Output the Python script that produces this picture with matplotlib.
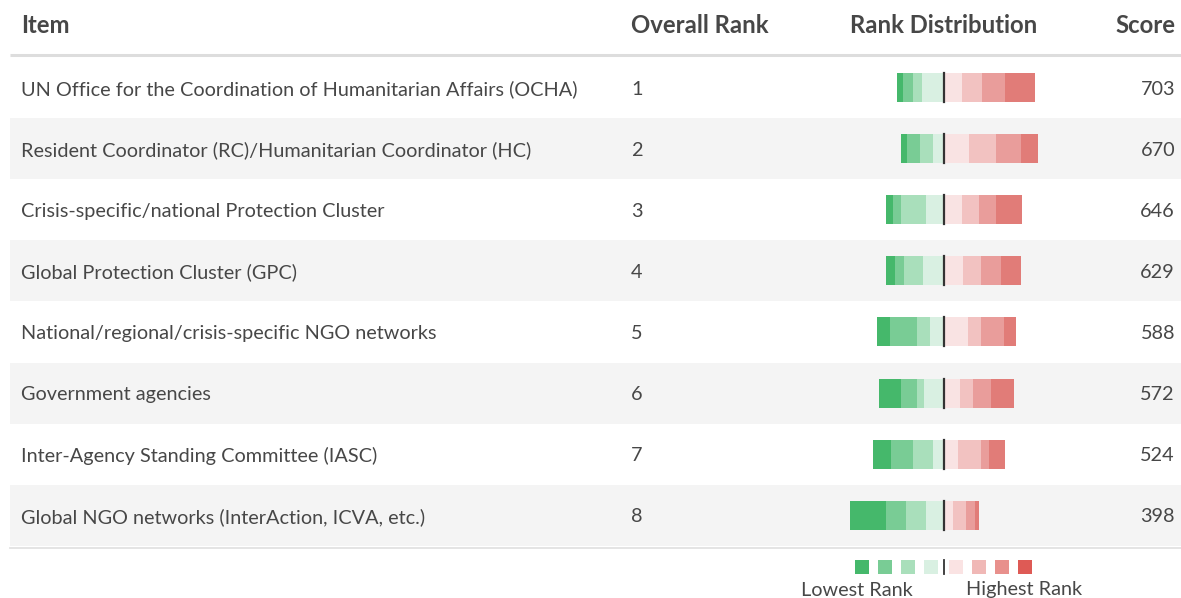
import matplotlib.pyplot as plt
import numpy as np

# ranked items, overall rank and score
items = [
    "UN Office for the Coordination of Humanitarian Affairs (OCHA)",
    "Resident Coordinator (RC)/Humanitarian Coordinator (HC)",
    "Crisis-specific/national Protection Cluster",
    "Global Protection Cluster (GPC)",
    "National/regional/crisis-specific NGO networks",
    "Government agencies",
    "Inter-Agency Standing Committee (IASC)",
    "Global NGO networks (InterAction, ICVA, etc.)",
]
overall_rank = [1, 2, 3, 4, 5, 6, 7, 8]
score = [703, 670, 646, 629, 588, 572, 524, 398]

# rank distribution, lowest ranks (left of centre, outermost first)
low_ranks = [
    [6.0, 10.0, 9.0, 21.7],
    [6.7, 12.7, 12.7, 10.7],
    [7.0, 8.3, 24.7, 17.7],
    [9.7, 8.7, 18.7, 20.7],
    [13.0, 27.0, 13.0, 13.3],
    [22.3, 16.0, 7.0, 19.3],
    [18.3, 21.7, 20.0, 10.7],
    [36.3, 19.7, 20.0, 17.7],
]
# highest ranks (right of centre, innermost first)
high_ranks = [
    [18.3, 20.0, 23.0, 29.7],
    [25.7, 27.0, 25.0, 16.3],
    [18.3, 17.0, 17.3, 25.7],
    [19.3, 17.7, 20.3, 19.7],
    [24.0, 13.0, 23.0, 12.7],
    [16.7, 13.0, 17.7, 22.7],
    [14.0, 23.0, 8.3, 16.0],
    [9.3, 13.0, 9.0, 4.0],
]

greens = ["#45b86b", "#79cc95", "#a9dfbb", "#d9f0e2"]
reds = ["#f9e3e3", "#f2c2c1", "#e99d9b", "#e17c78"]
legend_reds = ["#fae3e3", "#f0b8b6", "#e8908c", "#de5a55"]
text_color = "#474747"

plt.rcParams['font.family'] = ['Lato', 'DejaVu Sans']

W, H = 1181, 598
fig = plt.figure(figsize=(W / 100, H / 100), dpi=100)
ax = fig.add_axes([0, 0, 1, 1])
ax.set_xlim(0, W)
ax.set_ylim(H, 0)
ax.axis('off')

center = 943.5
row_top = 57
row_h = 61.1
bar_h = 29
fs = 14.3
hfs = 17.2

# header
hy = 25.5
ax.text(21, hy, "Item", fontsize=hfs, fontweight='bold', color=text_color, va='center')
ax.text(631, hy, "Overall Rank", fontsize=hfs, fontweight='bold', color=text_color, va='center')
ax.text(center, hy, "Rank Distribution", fontsize=hfs, fontweight='bold', color=text_color,
        va='center', ha='center')
ax.text(1175, hy, "Score", fontsize=hfs, fontweight='bold', color=text_color, va='center', ha='right')
ax.plot([10, 1181], [55, 55], color="#dddddd", lw=2.2, solid_capstyle='butt')

for i, name in enumerate(items):
    y = row_top + row_h * (i + 0.5)
    if i % 2 == 1:
        ax.axhspan(row_top + row_h * i, row_top + row_h * (i + 1), xmin=10 / W, xmax=1,
                   color="#f4f4f4", lw=0, zorder=0)
    ty = y + 1.5
    ax.text(21, ty, name, fontsize=fs, color=text_color, va='center')
    ax.text(631, ty, str(overall_rank[i]), fontsize=fs, color=text_color, va='center')
    ax.text(1175, ty, str(score[i]), fontsize=fs, color=text_color, va='center', ha='right')

    # lowest ranks to the left
    lows = low_ranks[i]
    left = center - sum(lows)
    for v, c in zip(lows, greens):
        ax.barh(y, v, left=left, height=bar_h, color=c, lw=0, zorder=2)
        left += v
    # highest ranks to the right
    left = center
    for v, c in zip(high_ranks[i], reds):
        ax.barh(y, v, left=left, height=bar_h, color=c, lw=0, zorder=2)
        left += v
    ax.plot([center, center], [y - bar_h / 2, y + bar_h / 2], color="#333333", lw=1.6, zorder=3)

ax.plot([10, 1181], [548, 548], color="#e2e2e2", lw=1.3)

# legend
ly = 566.5
sq = 14
legend_colors = greens + legend_reds
xs = [862, 885, 908, 931, 956, 979, 1001.5, 1024.5]
for x, c in zip(xs, legend_colors):
    ax.barh(ly, sq, left=x - sq / 2, height=sq, color=c, lw=0)
ax.plot([center, center], [ly - sq / 2, ly + sq / 2], color="#333333", lw=1.3)
ax.text(857, 590, "Lowest Rank", fontsize=fs, color=text_color, ha='center', va='center')
ax.text(1024, 590, "Highest Rank", fontsize=fs, color=text_color, ha='center', va='center')

fig.savefig("out.png", dpi=100)
